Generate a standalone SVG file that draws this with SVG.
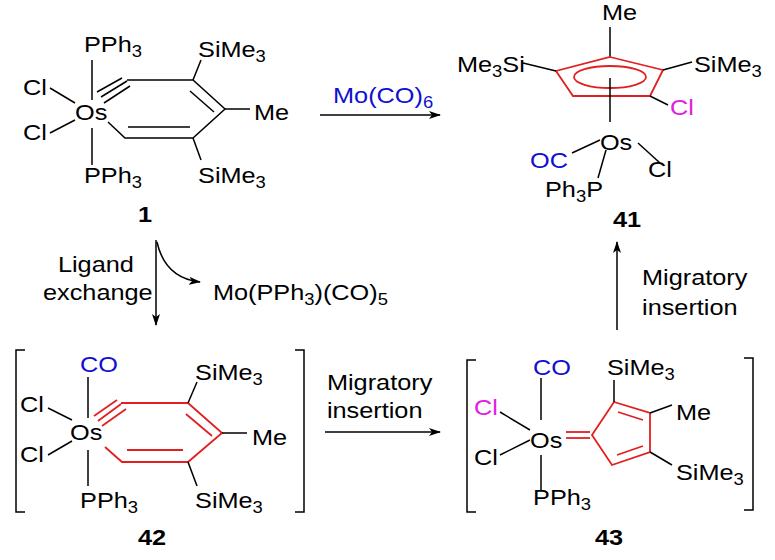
<svg xmlns="http://www.w3.org/2000/svg" width="775" height="560" viewBox="0 0 775 560">
<defs>
<marker id="ah" markerWidth="12" markerHeight="8" refX="11" refY="4" orient="auto" markerUnits="userSpaceOnUse"><path d="M0,0 L12,4 L0,8 L3,4 Z" fill="#000"/></marker>
<style>
.t{font-family:"Liberation Sans",Arial,sans-serif;font-size:22px;fill:#000}
.b{font-weight:bold}
.blue{fill:#1010d0}.mag{fill:#e020e0}
.k{stroke:#000;stroke-width:1.5;fill:none}
.r{stroke:#e02020;stroke-width:1.8;fill:none}
</style>
</defs>
<rect width="775" height="560" fill="#fff"/>
<g id="connectors">
<line class="k" x1="320" y1="115" x2="440" y2="115" marker-end="url(#ah)"/>
<line class="k" x1="156" y1="240" x2="156" y2="325" marker-end="url(#ah)"/>
<path class="k" d="M157,242 Q165,278 200,282" marker-end="url(#ah)"/>
<line class="k" x1="325" y1="432" x2="440" y2="432" marker-end="url(#ah)"/>
<line class="k" x1="617" y1="330" x2="617" y2="242" marker-end="url(#ah)"/>
</g>
<g id="c1">
<line class="k" x1="92" y1="60" x2="92" y2="100"/><line class="k" x1="92" y1="128" x2="92" y2="165"/>
<line class="k" x1="50" y1="88" x2="75" y2="103"/><line class="k" x1="50" y1="133" x2="75" y2="120"/>
<line class="k" x1="97" y1="92" x2="122" y2="78"/><line class="k" x1="101" y1="97" x2="127" y2="81"/><line class="k" x1="104" y1="103" x2="130" y2="86"/>
<polyline class="k" points="127,80 193,80 225,109 193,138 125,138 108,122"/>
<line class="k" x1="190" y1="91" x2="214" y2="112"/><line class="k" x1="128" y1="127" x2="190" y2="127"/>
<line class="k" x1="225" y1="109" x2="250" y2="109"/>
<line class="k" x1="193" y1="80" x2="201" y2="60"/><line class="k" x1="193" y1="138" x2="201" y2="160"/>
</g>
<g id="c41">
<line class="k" x1="610" y1="27" x2="610" y2="57"/>
<polygon class="r" points="610,57 663,70 650,96 573,96 556,71"/>
<ellipse class="r" cx="610" cy="77" rx="36" ry="11"/>
<line class="k" x1="523" y1="63" x2="556" y2="71"/><line class="k" x1="663" y1="70" x2="692" y2="62"/><line class="k" x1="650" y1="96" x2="668" y2="105"/>
<line class="k" x1="610" y1="78" x2="610" y2="122"/>
<line class="k" x1="572" y1="153" x2="600" y2="140"/><line class="k" x1="638" y1="143" x2="660" y2="163"/><line class="k" x1="606" y1="150" x2="598" y2="178"/>
</g>
<g id="c42">
<path class="k" d="M25,350 H16 V512 H25 M295,350 H304 V512 H295"/>
<line class="k" x1="88" y1="377" x2="88" y2="418"/><line class="k" x1="88" y1="450" x2="88" y2="486"/>
<line class="k" x1="48" y1="408" x2="72" y2="420"/><line class="k" x1="48" y1="455" x2="72" y2="441"/>
<line class="r" x1="94" y1="416" x2="117" y2="400"/><line class="r" x1="98" y1="421" x2="121" y2="404"/><line class="r" x1="102" y1="426" x2="126" y2="409"/>
<polyline class="r" points="121,403 188,403 222,433 188,462 122,462 105,447"/>
<line class="r" x1="186" y1="414" x2="212" y2="436"/><line class="r" x1="127" y1="450" x2="183" y2="450"/>
<line class="k" x1="222" y1="433" x2="247" y2="433"/>
<line class="k" x1="188" y1="403" x2="197" y2="382"/><line class="k" x1="188" y1="462" x2="197" y2="486"/>
</g>
<g id="c43">
<path class="k" d="M476,360 H467 V512 H476 M744,358 H753 V510 H744"/>
<line class="k" x1="541" y1="378" x2="541" y2="420"/><line class="k" x1="541" y1="455" x2="541" y2="490"/>
<line class="k" x1="500" y1="412" x2="530" y2="430"/><line class="k" x1="500" y1="455" x2="530" y2="440"/>
<line class="r" x1="566" y1="432" x2="590" y2="432"/><line class="r" x1="566" y1="438" x2="590" y2="438"/>
<polygon class="r" points="592,435 614,402 650,413 650,452 612,465"/>
<line class="r" x1="618" y1="412" x2="643" y2="420"/><line class="r" x1="617" y1="455" x2="643" y2="446"/>
<line class="k" x1="614" y1="402" x2="614" y2="380"/><line class="k" x1="650" y1="413" x2="672" y2="405"/><line class="k" x1="650" y1="452" x2="672" y2="465"/>
</g>
<g id="labels" transform="scale(1.15,1)">
<text class="t" x="73" y="52">PPh<tspan font-size="16" dy="5">3</tspan></text>
<text class="t" x="65.2" y="120">Os</text>
<text class="t" x="20" y="95">Cl</text><text class="t" x="20" y="140">Cl</text>
<text class="t" x="220.9" y="120">Me</text>
<text class="t" x="172.2" y="57">SiMe<tspan font-size="16" dy="5">3</tspan></text>
<text class="t" x="172.2" y="183">SiMe<tspan font-size="16" dy="5">3</tspan></text>
<text class="t" x="73" y="183">PPh<tspan font-size="16" dy="5">3</tspan></text>
<text class="t b" x="120" y="222">1</text>
<text class="t blue" x="289.6" y="103">Mo(CO)<tspan font-size="16" dy="5">6</tspan></text>
<text class="t" x="523.5" y="20">Me</text>
<text class="t" x="397.4" y="72">Me<tspan font-size="16" dy="5">3</tspan><tspan dy="-5">Si</tspan></text>
<text class="t" x="603.5" y="72">SiMe<tspan font-size="16" dy="5">3</tspan></text>
<text class="t mag" x="582.6" y="115">Cl</text>
<text class="t" x="521.7" y="150">Os</text>
<text class="t blue" x="460.9" y="168">OC</text>
<text class="t" x="563.5" y="177">Cl</text>
<text class="t" x="473.9" y="197">Ph<tspan font-size="16" dy="5">3</tspan><tspan dy="-5">P</tspan></text>
<text class="t b" x="533" y="227">41</text>
<text class="t" x="50.4" y="272">Ligand</text>
<text class="t" x="37.4" y="300">exchange</text>
<text class="t" x="185.2" y="300">Mo(PPh<tspan font-size="16" dy="5">3</tspan><tspan dy="-5">)(CO)</tspan><tspan font-size="16" dy="5">5</tspan></text>
<text class="t blue" x="69.6" y="372">CO</text>
<text class="t" x="60.9" y="440">Os</text>
<text class="t" x="17.4" y="412">Cl</text><text class="t" x="17.4" y="462">Cl</text>
<text class="t" x="219.1" y="445">Me</text>
<text class="t" x="169.6" y="380">SiMe<tspan font-size="16" dy="5">3</tspan></text>
<text class="t" x="169.6" y="508">SiMe<tspan font-size="16" dy="5">3</tspan></text>
<text class="t" x="69.6" y="508">PPh<tspan font-size="16" dy="5">3</tspan></text>
<text class="t b" x="120" y="545">42</text>
<text class="t" x="284.3" y="390">Migratory</text>
<text class="t" x="284.3" y="418">insertion</text>
<text class="t blue" x="463.5" y="375">CO</text>
<text class="t" x="460.9" y="448">Os</text>
<text class="t mag" x="412.2" y="415">Cl</text>
<text class="t" x="412.2" y="465">Cl</text>
<text class="t" x="527.8" y="375">SiMe<tspan font-size="16" dy="5">3</tspan></text>
<text class="t" x="587.8" y="420">Me</text>
<text class="t" x="587.8" y="480">SiMe<tspan font-size="16" dy="5">3</tspan></text>
<text class="t" x="463.5" y="505">PPh<tspan font-size="16" dy="5">3</tspan></text>
<text class="t b" x="517.4" y="545">43</text>
<text class="t" x="558.3" y="285">Migratory</text>
<text class="t" x="558.3" y="315">insertion</text>
</g>
</svg>
